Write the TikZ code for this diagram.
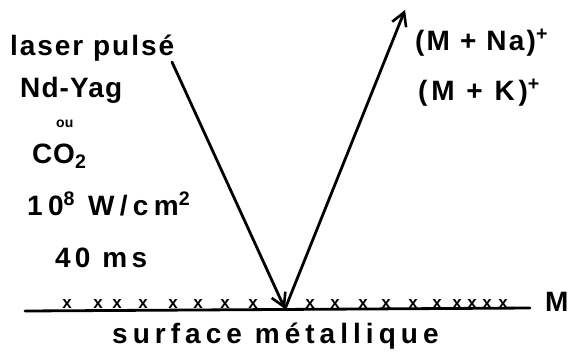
\documentclass[tikz,border=0pt]{standalone}
\usepackage{fontspec}
\setmainfont{Liberation Sans}[BoldFont={Liberation Sans Bold}]
\usetikzlibrary{arrows.meta}
\tikzset{
  lbl/.style={anchor=base west, inner sep=0pt, font=\fontsize{28}{31}\selectfont\bfseries},
  ray/.style={line width=2.8pt, line cap=round, -{Straight Barb[length=13pt,width=15pt,line width=2.6pt]}},
  surf/.style={line width=2.8pt, line cap=round},
  xmark/.style={inner sep=0pt, anchor=base, font=\fontsize{17}{18}\selectfont\bfseries}
}
\newcommand{\spc}[1]{\addfontfeature{LetterSpace=#1}}
\begin{document}
\begin{tikzpicture}[x=1pt,y=-1pt]
\useasboundingbox (0,0) rectangle (568,357);
% texts
\node[lbl] (laser) at (10,55) {\spc{7}laser pulsé};
\node[lbl] (ndyag) at (20,97) {\spc{4}Nd-Yag};
\node[lbl, font=\fontsize{14}{16}\selectfont\bfseries] (ou) at (56,127) {ou};
\node[lbl] (co2) at (32,163) {\spc{3}CO\textsubscript{2}};
\node[lbl] (power) at (27,215) {\spc{19}10\textsuperscript{8} W/cm\textsuperscript{2}};
\node[lbl] (dur) at (55,267) {\spc{15}40 ms};
\node[lbl] (surflbl) at (112,343) {\spc{18}surface métallique};
\node[lbl] (mlbl) at (545,311) {M};
\node[lbl] (na) at (415,50) {\spc{8}(M + Na)\textsuperscript{+}};
\node[lbl] (k) at (418,100) {\spc{14}(M + K)\textsuperscript{+}};
% geometry
\coordinate (src) at (172,62);
\coordinate (hit) at (285,309);
\coordinate (out) at (405,10);
\coordinate (sl) at (25,311);
\coordinate (sr) at (530,308);
\draw[surf] (sl) -- (sr);
\draw[ray] (src) -- (hit);
\draw[ray] (hit) -- (out);
% adsorbed molecules
\foreach \xx in {67,98,117,143,173,198,225,253,310,335,363,386,413,437,457,472,487,503}
  \node[xmark] at (\xx,308) {x};
\end{tikzpicture}
\end{document}
